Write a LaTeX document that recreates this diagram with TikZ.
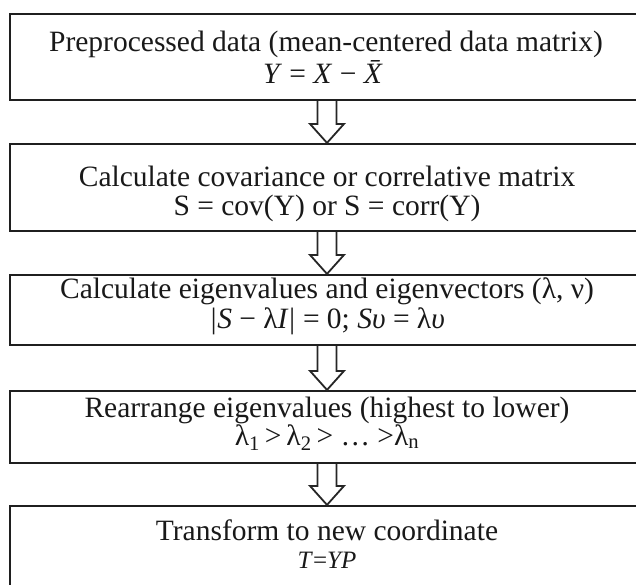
\documentclass[tikz,border=0pt]{standalone}
\usepackage{fontspec}
\setmainfont{Liberation Serif}
\usetikzlibrary{calc}
\begin{document}
\begin{tikzpicture}[x=1pt,y=1pt,
  boxst/.style={draw=black!88, line width=2.2pt, rectangle, minimum width=634pt, inner sep=0pt},
  txt/.style={anchor=base, inner sep=0pt, text=black!90, font=\fontsize{29.5}{30}\selectfont},
  smalltxt/.style={txt, font=\fontsize{25}{26}\selectfont},
  blockarrow/.style={draw=black!85, line width=1.8pt, line join=miter,
    to path={let \p1=(\tikztostart), \p2=(\tikztotarget) in
      (\x1-9.5pt,\y1) -- (\x1-9.5pt,\y2+19pt) -- (\x1-17pt,\y2+19pt) -- (\x2,\y2)
      -- (\x1+17pt,\y2+19pt) -- (\x1+9.5pt,\y2+19pt) -- (\x1+9.5pt,\y1)}}]
\clip (0,0) rectangle (636,-584);
\fill[white] (0,0) rectangle (636,-584);
% boxes
\node[boxst, minimum height=86pt] (b1) at (327,-57) {};
\node[boxst, minimum height=87pt] (b2) at (327,-187.5) {};
\node[boxst, minimum height=70pt] (b3) at (327,-310) {};
\node[boxst, minimum height=72pt] (b4) at (327,-427) {};
\node[boxst, minimum height=110pt] (b5) at (327,-561) {};
% texts
\node[txt] (t1a) at (326,-51) {Preprocessed data (mean-centered data matrix)};
\node[txt] (t1b) at (326,-83) {\textit{Y} = \textit{X} − \textit{\={X}}};
\node[txt] (t2a) at (327,-186) {Calculate covariance or correlative matrix};
\node[txt] (t2b) at (327,-215) {S = cov(Y) or S = corr(Y)};
\node[txt] (t3a) at (327,-298) {Calculate eigenvalues and eigenvectors (λ, ν)};
\node[txt] (t3b) at (327,-328) {\textit{|S} − λ\textit{I|} = 0; \textit{Sυ} = λ\textit{υ}};
\node[txt] (t4a) at (327,-417) {Rearrange eigenvalues (highest to lower)};
\node[txt] (t4b) at (327,-445) {λ\textsubscript{1}\,>\,λ\textsubscript{2}\,> … >λ\textsubscript{n}};
\node[txt] (t5a) at (327,-540) {Transform to new coordinate};
\node[smalltxt] (t5b) at (327,-568) {\textit{T}=\textit{YP}};
% arrows
\draw[blockarrow] (b1.south) to (b2.north);
\draw[blockarrow] (b2.south) to (b3.north);
\draw[blockarrow] (b3.south) to (b4.north);
\draw[blockarrow] (b4.south) to (b5.north);
\end{tikzpicture}
\end{document}
